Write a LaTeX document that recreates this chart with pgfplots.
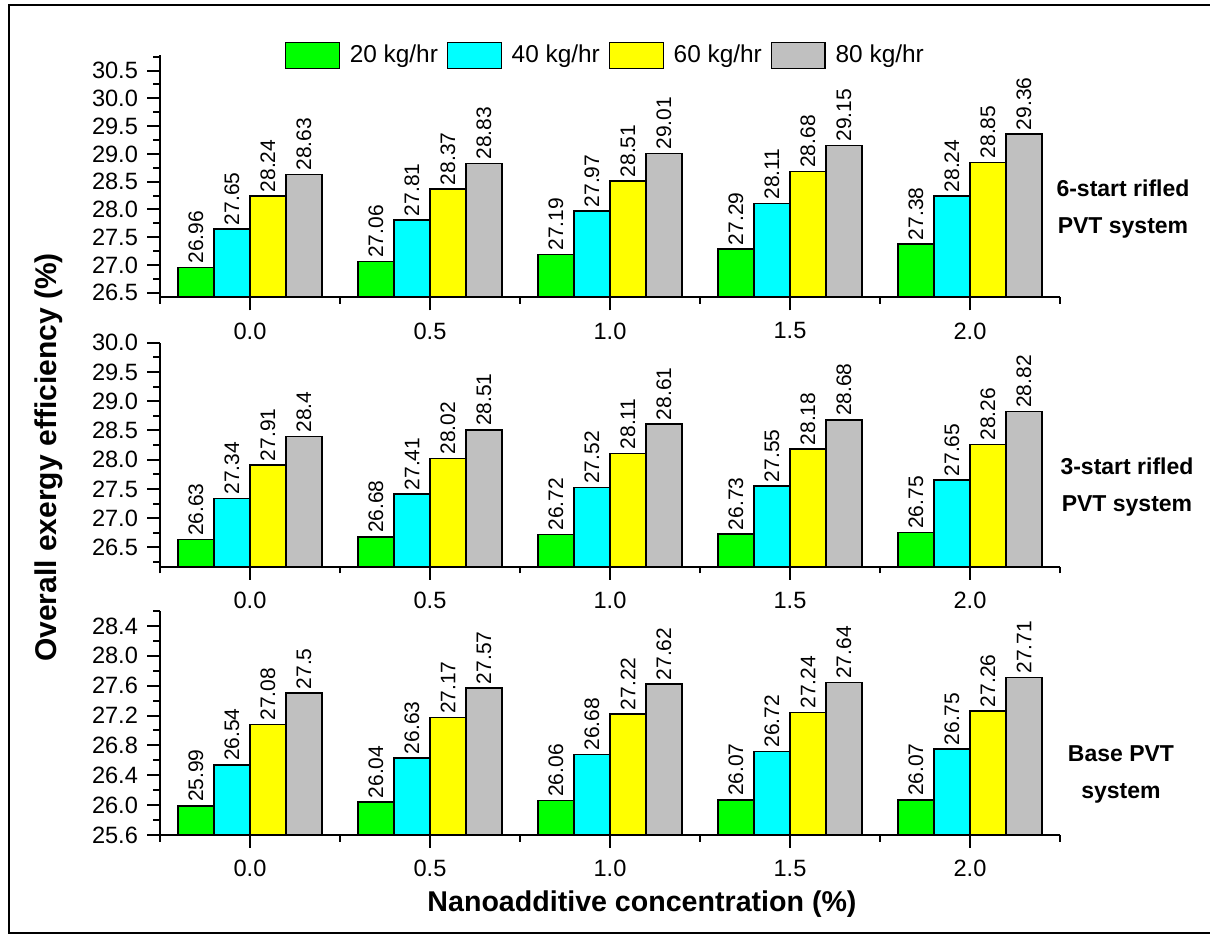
\documentclass[border=0pt]{standalone}
\usepackage{pgfplots}
\usepackage{pgfplotstable}
\usepackage{fontspec}
\setmainfont{Liberation Sans}
\pgfplotsset{compat=1.18}
\definecolor{cg}{RGB}{0,255,0}
\definecolor{cc}{RGB}{0,255,255}
\definecolor{cy}{RGB}{255,255,0}
\definecolor{cgr}{RGB}{192,192,192}

\pgfplotstableread{
x s20 s40 s60 s80
0 26.96 27.65 28.24 28.63
1 27.06 27.81 28.37 28.83
2 27.19 27.97 28.51 29.01
3 27.29 28.11 28.68 29.15
4 27.38 28.24 28.85 29.36
}\sixstart
\pgfplotstableread{
x s20 s40 s60 s80
0 26.63 27.34 27.91 28.4
1 26.68 27.41 28.02 28.51
2 26.72 27.52 28.11 28.61
3 26.73 27.55 28.18 28.68
4 26.75 27.65 28.26 28.82
}\threestart
\pgfplotstableread{
x s20 s40 s60 s80
0 25.99 26.54 27.08 27.5
1 26.04 26.63 27.17 27.57
2 26.06 26.68 27.22 27.62
3 26.07 26.72 27.24 27.64
4 26.07 26.75 27.26 27.71
}\basepvt

\pgfplotsset{
  /pgf/number format/assume math mode=true,
  panel/.style={
    scale only axis,
    width=450pt,
    xmin=-0.5, xmax=4.5,
    axis x line=bottom, axis y line=left,
    axis line style={-, line width=1pt, black},
    axis on top,
    xtick={0,1,2,3,4},
    xticklabels={0.0,0.5,1.0,1.5,2.0},
    minor xtick={-0.5,0.5,1.5,2.5,3.5,4.5},
    tick align=outside,
    major tick length=6.5pt,
    minor tick length=3.3pt,
    every tick/.style={line width=1pt, black},
    every minor tick/.style={line width=1pt, black},
    tick label style={font=\fontsize{11.8}{13}\selectfont},
    xticklabel style={yshift=-2.7pt},
    yticklabel style={xshift=-1pt, /pgf/number format/.cd, fixed, fixed zerofill, precision=1},
    nodes near coords,
    every node near coord/.append style={rotate=90, anchor=west, inner sep=1.6pt,
      font=\fontsize{10.5}{12}\selectfont, text=black},
    legend image code/.code={\draw[#1] (0pt,-6.4pt) rectangle (26.8pt,6.4pt);},
  },
  barstyle/.style={ybar, bar width=0.2, bar shift=0pt, draw=black, line width=0.7pt},
}

\begin{document}
\begin{tikzpicture}
\path[use as bounding box] (0pt,0pt) rectangle (605pt,467.5pt);

% frame
\draw[line width=1pt] (607pt,465pt) -- (4.3pt,465pt) -- (4.3pt,1pt) -- (607pt,1pt);

% panel 1
\begin{axis}[panel, at={(80pt,318.85pt)}, anchor=south west, height=121.15pt,
  ymin=26.42, ymax=30.78,
  ytick={26.5,27.0,...,30.5},
  minor ytick={26.75,27.25,27.75,28.25,28.75,29.25,29.75,30.25,30.75},
  legend columns=4,
  legend style={at={(0.496,0.998)}, anchor=center, draw=none, fill=none,
    font=\fontsize{12.2}{14}\selectfont,
    /tikz/every odd column/.append style={column sep=2.9pt},
    /tikz/every even column/.append style={column sep=2.5pt}},
]
\addplot[barstyle, fill=cg] table[x expr=\thisrow{x}-0.3, y=s20] {\sixstart};
\addplot[barstyle, fill=cc] table[x expr=\thisrow{x}-0.1, y=s40] {\sixstart};
\addplot[barstyle, fill=cy] table[x expr=\thisrow{x}+0.1, y=s60] {\sixstart};
\addplot[barstyle, fill=cgr] table[x expr=\thisrow{x}+0.3, y=s80] {\sixstart};
\legend{20 kg/hr, 40 kg/hr, 60 kg/hr, 80 kg/hr}
\end{axis}

% panel 2
\begin{axis}[panel, at={(80pt,184.15pt)}, anchor=south west, height=112pt,
  ymin=26.17, ymax=30.0,
  ytick={26.5,27.0,...,30.0},
  minor ytick={26.25,26.75,27.25,27.75,28.25,28.75,29.25,29.75},
]
\addplot[barstyle, fill=cg] table[x expr=\thisrow{x}-0.3, y=s20] {\threestart};
\addplot[barstyle, fill=cc] table[x expr=\thisrow{x}-0.1, y=s40] {\threestart};
\addplot[barstyle, fill=cy] table[x expr=\thisrow{x}+0.1, y=s60] {\threestart};
\addplot[barstyle, fill=cgr] table[x expr=\thisrow{x}+0.3, y=s80] {\threestart};
\end{axis}

% panel 3
\begin{axis}[panel, at={(80pt,50pt)}, anchor=south west, height=112pt,
  ymin=25.6, ymax=28.6,
  ytick={25.6,26.0,26.4,26.8,27.2,27.6,28.0,28.4},
  minor ytick={25.8,26.2,26.6,27.0,27.4,27.8,28.2,28.6},
]
\addplot[barstyle, fill=cg] table[x expr=\thisrow{x}-0.3, y=s20] {\basepvt};
\addplot[barstyle, fill=cc] table[x expr=\thisrow{x}-0.1, y=s40] {\basepvt};
\addplot[barstyle, fill=cy] table[x expr=\thisrow{x}+0.1, y=s60] {\basepvt};
\addplot[barstyle, fill=cgr] table[x expr=\thisrow{x}+0.3, y=s80] {\basepvt};
\end{axis}

% labels
\node[rotate=90, anchor=center, font=\fontsize{15}{17}\selectfont\bfseries] at (24.5pt,238.75pt) {Overall exergy efficiency (\%)};
\node[anchor=base, font=\fontsize{14.3}{16}\selectfont\bfseries] at (321pt,11.5pt) {Nanoadditive concentration (\%)};

\node[align=center, anchor=center, font=\fontsize{11.5}{18.5}\selectfont\bfseries] at (561.5pt,363pt) {6-start rifled\\PVT system};
\node[align=center, anchor=center, font=\fontsize{11.5}{18.5}\selectfont\bfseries] at (563.5pt,224.1pt) {3-start rifled\\PVT system};
\node[align=center, anchor=center, font=\fontsize{11.5}{18.5}\selectfont\bfseries] at (560.5pt,80.2pt) {Base PVT\\system};
\end{tikzpicture}
\end{document}
